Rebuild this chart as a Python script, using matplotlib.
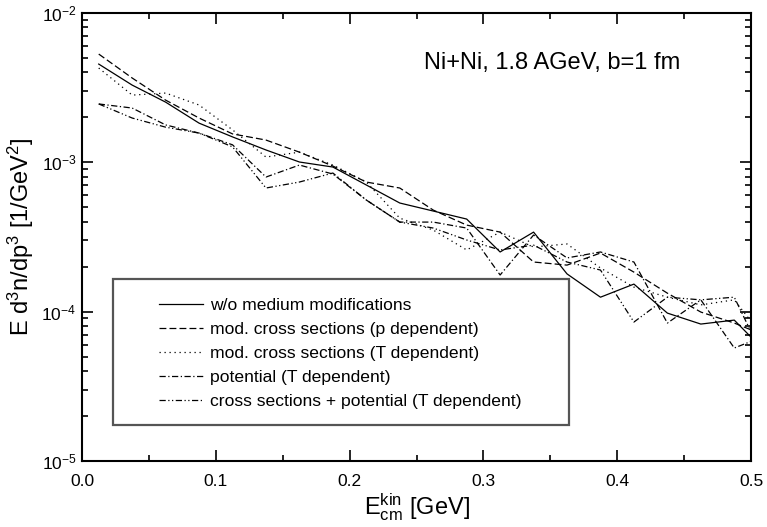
import matplotlib
matplotlib.use("Agg")
import matplotlib.pyplot as plt
from matplotlib.patches import Rectangle
from matplotlib.ticker import MultipleLocator, FormatStrFormatter, LogLocator

plt.rcParams['font.family'] = ['Liberation Sans', 'DejaVu Sans']
plt.rcParams['mathtext.fontset'] = 'custom'
plt.rcParams['mathtext.rm'] = 'Liberation Sans'
plt.rcParams['mathtext.it'] = 'Liberation Sans:italic'
plt.rcParams['mathtext.bf'] = 'Liberation Sans:bold'

# bin centres [GeV]
e_kin = [0.0125, 0.0375, 0.0625, 0.0875, 0.1125, 0.1375, 0.1625, 0.1875,
         0.2125, 0.2375, 0.2625, 0.2875, 0.3125, 0.3375, 0.3625, 0.3875,
         0.4125, 0.4375, 0.4625, 0.4875, 0.5125]

# spectra E d3n/dp3 [1/GeV^2]
no_medium = [4.55e-3, 3.29e-3, 2.53e-3, 1.83e-3, 1.48e-3, 1.21e-3, 1.005e-3,
             9.30e-4, 7.05e-4, 5.34e-4, 4.72e-4, 4.17e-4, 2.51e-4, 3.41e-4,
             1.79e-4, 1.25e-4, 1.53e-4, 9.78e-5, 8.26e-5, 8.78e-5, 5.2e-5]
cross_p = [5.31e-3, 3.67e-3, 2.61e-3, 1.98e-3, 1.55e-3, 1.41e-3, 1.17e-3,
           9.44e-4, 7.38e-4, 6.73e-4, 4.79e-4, 3.80e-4, 3.41e-4, 2.15e-4,
           2.05e-4, 2.47e-4, 1.84e-4, 1.33e-4, 9.94e-5, 8.39e-5, 6.8e-5]
cross_T = [4.28e-3, 2.82e-3, 2.91e-3, 2.42e-3, 1.65e-3, 1.085e-3, 1.17e-3,
           9.59e-4, 7.38e-4, 4.23e-4, 3.52e-4, 2.59e-4, 3.41e-4, 2.71e-4,
           2.84e-4, 1.96e-4, 1.46e-4, 1.25e-4, 1.11e-4, 1.20e-4, 6.2e-5]
pot_T = [2.46e-3, 2.31e-3, 1.78e-3, 1.57e-3, 1.31e-3, 7.97e-4, 9.59e-4,
         8.35e-4, 5.59e-4, 3.98e-4, 3.98e-4, 3.63e-4, 1.76e-4, 3.26e-4,
         2.29e-4, 2.51e-4, 2.15e-4, 8.39e-5, 1.20e-4, 5.71e-5, 7.0e-5]
cross_pot_T = [2.46e-3, 1.98e-3, 1.72e-3, 1.57e-3, 1.27e-3, 6.73e-4, 7.38e-4,
               8.48e-4, 5.59e-4, 3.98e-4, 3.63e-4, 3.02e-4, 2.59e-4, 2.79e-4,
               2.15e-4, 1.90e-4, 8.52e-5, 1.25e-4, 1.20e-4, 1.25e-4, 4.3e-5]

labels = ["w/o medium modifications",
          "mod. cross sections (p dependent)",
          "mod. cross sections (T dependent)",
          "potential (T dependent)",
          "cross sections + potential (T dependent)"]

W, H = 767, 527
fig = plt.figure(figsize=(W / 100, H / 100), dpi=100)
# axes frame in pixels: x 82..751, y 13..461
ax = fig.add_axes([82 / W, 1 - 461 / H, (751 - 82) / W, (461 - 13) / H])

series = [no_medium, cross_p, cross_T, pot_T, cross_pot_T]
styles = ["-", (0, (5.5, 2.5)), (0, (1, 3)), (0, (5, 2, 1, 2)),
          (0, (5, 2, 1, 2, 1, 2))]
handles = []
for ys, ls, lab in zip(series, styles, labels):
    h, = ax.plot(e_kin, ys, color="black", lw=0.9, linestyle=ls, label=lab)
    handles.append(h)

ax.set_yscale("log")
ax.set_xlim(0.0, 0.5)
ax.set_ylim(1e-5, 1e-2)

ax.xaxis.set_major_locator(MultipleLocator(0.1))
ax.xaxis.set_minor_locator(MultipleLocator(0.05))
ax.xaxis.set_major_formatter(FormatStrFormatter("%.1f"))
ax.yaxis.set_major_locator(LogLocator(base=10, numticks=10))
ax.yaxis.set_minor_locator(LogLocator(base=10, subs=range(2, 10), numticks=10))

ax.tick_params(which="both", direction="in", top=True, right=True,
               labelsize=12.5, width=1.2)
ax.tick_params(which="major", length=8)
ax.tick_params(axis="x", which="major", pad=9)
ax.tick_params(axis="y", which="major", pad=4)
ax.tick_params(which="minor", length=4)
for sp in ax.spines.values():
    sp.set_linewidth(1.5)

ax.set_xlabel(r"E$_{\rm cm}^{\rm kin}$ [GeV]", fontsize=17, labelpad=2)
ax.set_ylabel(r"E d$^{3}$n/dp$^{3}$ [1/GeV$^{2}$]", fontsize=17, labelpad=4)

ax.text((552 - 82) / 669, (461 - 63) / 448, "Ni+Ni, 1.8 AGeV, b=1 fm",
        transform=ax.transAxes, ha="center", va="center", fontsize=17)

# legend box
box_l, box_r, box_t, box_b = 113, 569, 279, 425
ax.add_patch(Rectangle(((box_l - 82) / 669, (461 - box_b) / 448),
                       (box_r - box_l) / 669, (box_b - box_t) / 448,
                       transform=ax.transAxes, fill=False,
                       edgecolor="#555555", lw=1.6, zorder=3))
ax.legend(handles=handles, loc="upper left",
          bbox_to_anchor=((159 - 82) / 669, (461 - 298) / 448),
          frameon=False, borderpad=0, borderaxespad=0, fontsize=12.6,
          handlelength=2.5, handletextpad=0.4, labelspacing=0.5)

fig.savefig("out.png", dpi=100)
